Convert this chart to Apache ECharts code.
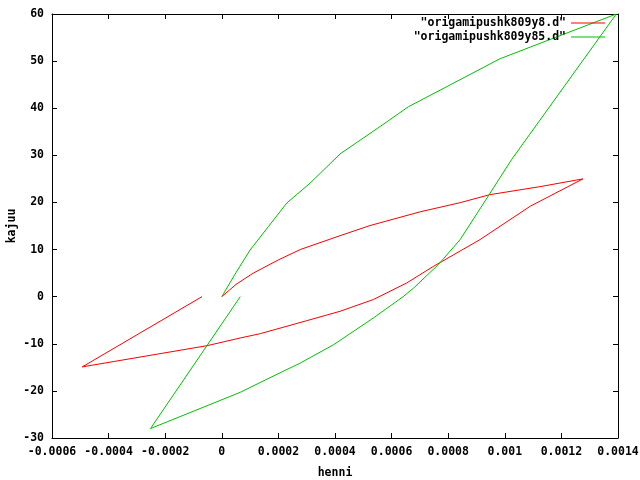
<!DOCTYPE html>
<html>
<head>
<meta charset="utf-8">
<script src="https://cdn.jsdelivr.net/npm/echarts@6/dist/echarts.min.js"></script>
<style>
html,body{margin:0;padding:0;background:#fff;}
#chart{width:640px;height:480px;}
</style>
</head>
<body>
<div id="chart"></div>
<script>
// Red series: "origamipushk809y8.d"
var redX = [0, 0.00005, 0.000111, 0.0002, 0.000277, 0.000418, 0.000524, 0.0007, 0.000842, 0.000947, 0.001124, 0.001276, 0.00109, 0.000912, 0.000747, 0.000653, 0.000536, 0.000418, 0.0003, 0.000136, 0.0000653, -0.000052, -0.000493, -0.00007];
var redY = [0, 2.6, 5.0, 7.8, 10.0, 12.95, 15.1, 18.0, 19.95, 21.65, 23.35, 25, 19.2, 12.1, 6.4, 2.9, -0.6, -3.1, -5.1, -7.85, -8.77, -10.4, -14.9, 0];
// Green series: "origamipushk809y85.d"
var greenX = [0, 0.00005, 0.0001, 0.000165, 0.00023, 0.000312, 0.000418, 0.000559, 0.000659, 0.000983, 0.001394, 0.001024, 0.000942, 0.000842, 0.000765, 0.000677, 0.000641, 0.000536, 0.000395, 0.000277, 0.00016, 0.0000653, -0.000252, 0.0000653];
var greenY = [0, 5.1, 9.9, 14.9, 19.9, 24.1, 30.3, 36.1, 40.3, 50.5, 60, 29.1, 21.4, 12.1, 6.8, 1.8, 0, -4.5, -10.2, -14.1, -17.5, -20.3, -28.0, 0];

var seriesNames = ['"origamipushk809y8.d"', '"origamipushk809y85.d"'];
var xName = 'henni';
var yName = 'kajuu';
var xMin = -0.0006, xMax = 0.0014, xStep = 0.0002;
var yMin = -30, yMax = 60, yStep = 10;

function pairs(xs, ys) {
  var out = [];
  for (var i = 0; i < xs.length; i++) out.push([xs[i], ys[i]]);
  return out;
}

var font = 'DejaVu Sans Mono';
var txt = {fontFamily: font, fontWeight: 'bold', fontSize: 11.5, color: '#000'};

function xFmt(v) { return String(parseFloat(Number(v).toFixed(6))); }

var axisLine = {show: true, onZero: false, lineStyle: {color: '#000', width: 1}};
var tick = {show: true, inside: true, length: 5, lineStyle: {color: '#000', width: 1}};

var chart = echarts.init(document.getElementById('chart'), null, {renderer: 'canvas'});
chart.setOption({
  animation: false,
  backgroundColor: '#fff',
  grid: {left: 52, right: 22, top: 14, bottom: 42, containLabel: false, outerBoundsMode: 'none'},
  xAxis: [
    {type: 'value', position: 'bottom', min: xMin, max: xMax, interval: xStep,
     axisLine: axisLine, axisTick: tick, splitLine: {show: false},
     axisLabel: Object.assign({margin: 8, formatter: xFmt, showMaxLabel: true, showMinLabel: true, hideOverlap: false}, txt),
     name: xName, nameLocation: 'middle', nameGap: 29, nameMoveOverlap: false, nameTextStyle: txt},
    {type: 'value', position: 'top', min: xMin, max: xMax, interval: xStep,
     axisLine: axisLine, axisTick: tick, splitLine: {show: false}, axisLabel: {show: false}}
  ],
  yAxis: [
    {type: 'value', position: 'left', min: yMin, max: yMax, interval: yStep,
     axisLine: axisLine, axisTick: tick, splitLine: {show: false},
     axisLabel: Object.assign({margin: 8}, txt),
     name: yName, nameLocation: 'middle', nameGap: 34, nameRotate: 90, nameMoveOverlap: false, nameTextStyle: txt},
    {type: 'value', position: 'right', min: yMin, max: yMax, interval: yStep,
     axisLine: axisLine, axisTick: tick, splitLine: {show: false}, axisLabel: {show: false}}
  ],
  legend: [
    {data: [seriesNames[0]], orient: 'vertical', right: 35, top: 17, align: 'right',
     icon: 'rect', itemWidth: 34, itemHeight: 1, itemGap: 0, padding: 0,
     textStyle: txt, selectedMode: false},
    {data: [seriesNames[1]], orient: 'vertical', right: 35, top: 31, align: 'right',
     icon: 'rect', itemWidth: 34, itemHeight: 1, itemGap: 0, padding: 0,
     textStyle: txt, selectedMode: false}
  ],
  series: [
    {name: seriesNames[0], type: 'line', xAxisIndex: 0, yAxisIndex: 0,
     data: pairs(redX, redY), symbol: 'none', color: '#ff0000',
     lineStyle: {color: '#ff0000', width: 1}},
    {name: seriesNames[1], type: 'line', xAxisIndex: 0, yAxisIndex: 0,
     data: pairs(greenX, greenY), symbol: 'none', color: '#00c000',
     lineStyle: {color: '#00c000', width: 1}}
  ]
});
</script>
</body>
</html>
